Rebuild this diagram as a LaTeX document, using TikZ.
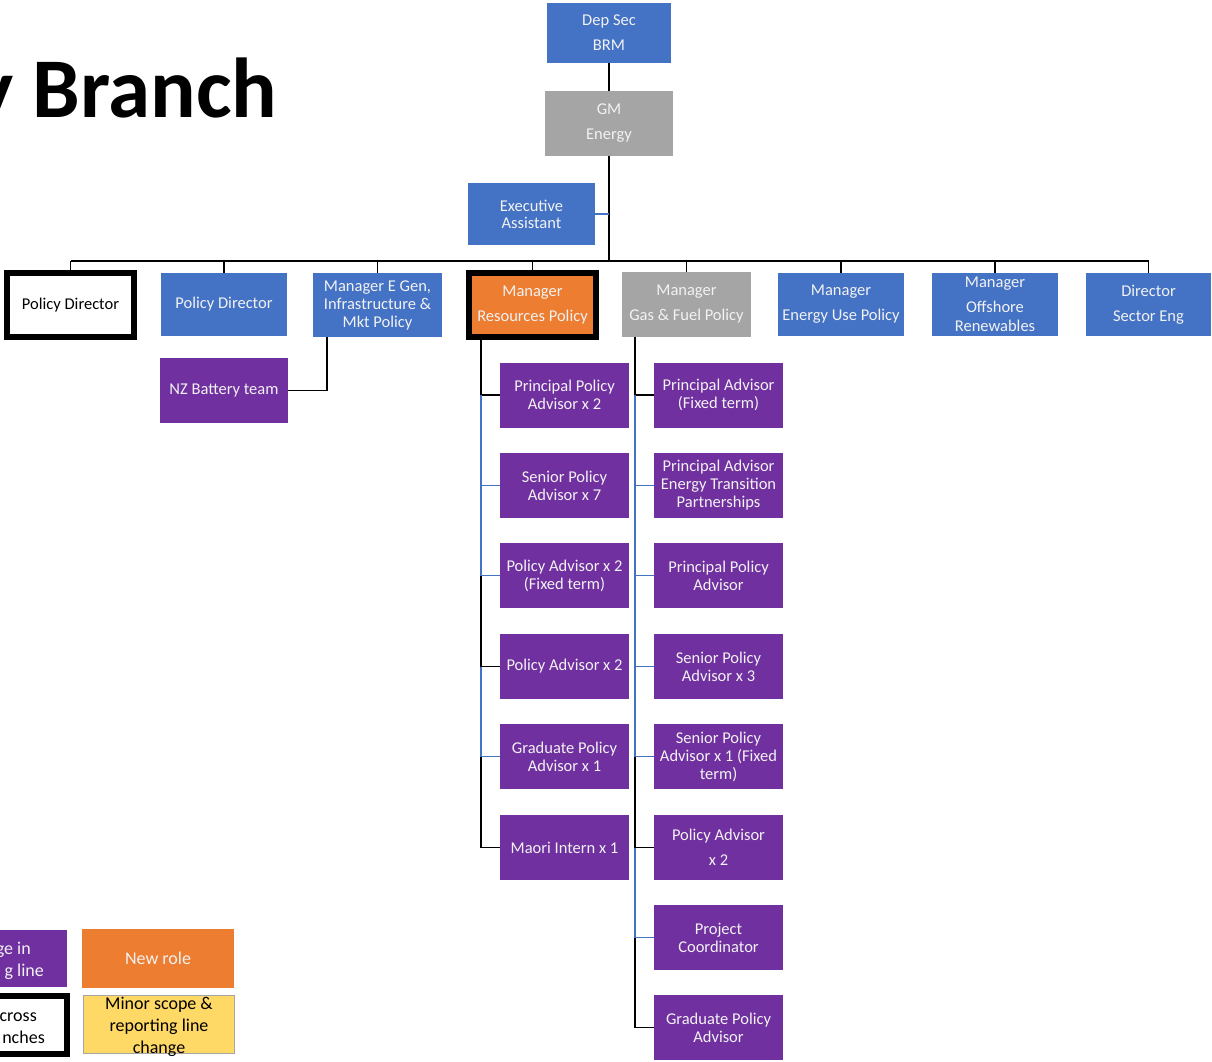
\documentclass[tikz,border=0pt]{standalone}
\usepackage{fontspec}
\setmainfont{Carlito}
\definecolor{cblue}{HTML}{4472C4}
\definecolor{cgrey}{HTML}{A5A5A5}
\definecolor{cpurple}{HTML}{7030A0}
\definecolor{corange}{HTML}{ED7D31}
\definecolor{cyellow}{HTML}{FFD966}
\definecolor{ctext}{HTML}{F2F2F2}
\begin{document}
\begin{tikzpicture}[x=1pt,y=-1pt,
  box/.style={inner sep=0pt, outer sep=0pt, align=center, text=ctext,
    font=\fontsize{16.5}{18}\selectfont, minimum width=126pt, minimum height=63pt},
  wide/.style={font=\fontsize{16.5}{25}\selectfont},
  bluebox/.style={box, fill=cblue},
  greybox/.style={box, fill=cgrey},
  purplebox/.style={box, fill=cpurple, minimum width=129pt, minimum height=65pt},
  blk/.style={draw=black, line width=1.6pt},
  bl/.style={draw=cblue, line width=1.6pt},
  frag/.style={inner sep=0pt, font=\fontsize{18}{22}\selectfont}
]
\clip (0,0) rectangle (1212,1061);
\fill[white] (0,0) rectangle (1212,1061);

% title
\node[anchor=base west, inner sep=0pt, font=\fontsize{85}{90}\selectfont\bfseries] (title) at (-27,117) {y Branch};

% top
\node[bluebox, wide, minimum width=124pt, minimum height=60pt] (dep) at (609,33) {Dep Sec\\BRM};
\node[greybox, wide, minimum width=128pt, minimum height=65pt] (gm) at (609,123.5) {GM\\Energy};
\node[bluebox, font=\fontsize{16.5}{17}\selectfont, minimum width=127pt, minimum height=62pt] (ea) at (531.5,214) {Executive\\Assistant};

\coordinate (busy) at (0,261);
\coordinate (eay) at (609,214);

% row of managers
\node[box, text=black, fill=white, draw=black, line width=6pt, minimum width=127pt, minimum height=64pt] (pdw) at (70.5,305) {Policy Director};
\node[bluebox] (pdb) at (224,304.5) {Policy Director};
\node[bluebox, minimum width=129pt, minimum height=64pt] (eg) at (377.5,305) {Manager E Gen,\\Infrastructure \&\\Mkt Policy};
\node[box, wide, fill=corange, draw=black, line width=6pt, minimum width=127pt, minimum height=64pt] (rp) at (532.5,305) {Manager\\Resources Policy};
\node[greybox, wide, minimum width=129pt, minimum height=65pt] (gf) at (686.5,304.5) {Manager\\Gas \& Fuel Policy};
\node[bluebox, wide] (eu) at (841,304.5) {Manager\\Energy Use Policy};
\node[bluebox, font=\fontsize{16.5}{19}\selectfont] (off) at (995,304.5) {Manager\\[6pt]Offshore\\Renewables};
\node[bluebox, wide, minimum width=125pt] (dse) at (1148.5,304.5) {Director\\Sector Eng};

\node[purplebox, minimum width=128pt] (nz) at (224,390.5) {NZ Battery team};

% left column
\node[purplebox] (l1) at (564.5,395) {Principal Policy\\Advisor x 2};
\node[purplebox] (l2) at (564.5,485.5) {Senior Policy\\Advisor x 7};
\node[purplebox] (l3) at (564.5,575.5) {Policy Advisor x 2\\(Fixed term)};
\node[purplebox] (l4) at (564.5,666.5) {Policy Advisor x 2};
\node[purplebox] (l5) at (564.5,756.5) {Graduate Policy\\Advisor x 1};
\node[purplebox] (l6) at (564.5,847.5) {Maori Intern x 1};

% right column
\node[purplebox] (r1) at (718.5,395) {Principal Advisor\\(Fixed term)};
\node[purplebox] (r2) at (718.5,485.5) {Principal Advisor\\Energy Transition\\Partnerships};
\node[purplebox] (r3) at (718.5,575.5) {Principal Policy\\Advisor};
\node[purplebox] (r4) at (718.5,666.5) {Senior Policy\\Advisor x 3};
\node[purplebox] (r5) at (718.5,756.5) {Senior Policy\\Advisor x 1 (Fixed\\term)};
\node[purplebox, wide] (r6) at (718.5,847.5) {Policy Advisor\\x 2};
\node[purplebox] (r7) at (718.5,937.5) {Project\\Coordinator};
\node[purplebox] (r8) at (718.5,1027.5) {Graduate Policy\\Advisor};

% connectors top
\draw[blk] (dep.south) -- (gm.north);
\draw[blk] (gm.south) -- (gm.south |- busy);
\draw[bl] (ea.east) -- (eay);
\draw[blk] (pdw.north |- busy) -- (dse.north |- busy);
\foreach \n in {pdb,eg,gf,eu,off,dse}{
  \draw[blk] (\n.north |- busy) -- (\n.north);
}
\draw[blk] (pdw.north |- busy) -- ([yshift=-3pt]pdw.north);
\draw[blk] (rp.north |- busy) -- ([yshift=-3pt]rp.north);

% NZ battery
\coordinate (egb) at (327,337);
\draw[blk] (egb) |- (nz.east);

% left spine
\coordinate (ls) at (481,340);
\draw[blk] (ls) |- (l1.west);
\draw[bl] (ls |- l1.west) |- (l2.west);
\draw[bl] (ls |- l2.west) |- (l3.west);
\draw[blk] (ls |- l3.west) |- (l4.west);
\draw[bl] (ls |- l4.west) |- (l5.west);
\draw[blk] (ls |- l5.west) |- (l6.west);

% right spine
\coordinate (rs) at (635,337);
\draw[blk] (rs) |- (r1.west);
\draw[bl] (rs |- r1.west) |- (r2.west);
\draw[bl] (rs |- r2.west) |- (r3.west);
\draw[bl] (rs |- r3.west) |- (r4.west);
\draw[bl] (rs |- r4.west) |- (r5.west);
\draw[blk] (rs |- r5.west) |- (r6.west);
\draw[bl] (rs |- r6.west) |- (r7.west);
\draw[blk] (rs |- r7.west) |- (r8.west);

% legend
\node[box, fill=cpurple, minimum width=80pt, minimum height=57pt] (lgp) at (27,958.5) {};
\node[frag, text=ctext, anchor=base east] (lgp1) at (31,954) {ge in};
\node[frag, text=ctext, anchor=base east] (lgp2) at (44,976) {g line};
\node[box, fill=corange, minimum width=152pt, minimum height=59pt, font=\fontsize{18}{22}\selectfont] (lgo) at (158,958.5) {New role};
\node[box, fill=white, draw=black, line width=6pt, minimum width=80pt, minimum height=58pt] (lgw) at (27,1025) {};
\node[frag, text=black, anchor=base east] (lgw1) at (37,1021) {cross};
\node[frag, text=black, anchor=base east] (lgw2) at (45,1043) {nches};
\node[box, fill=cyellow, draw=cgrey, line width=1.5pt, minimum width=151pt, minimum height=58pt] (lgy) at (159,1024.5) {};
\node[frag, text=black, align=center] (lgyt) at (159,1027) {Minor scope \&\\reporting line\\change};
\end{tikzpicture}
\end{document}
